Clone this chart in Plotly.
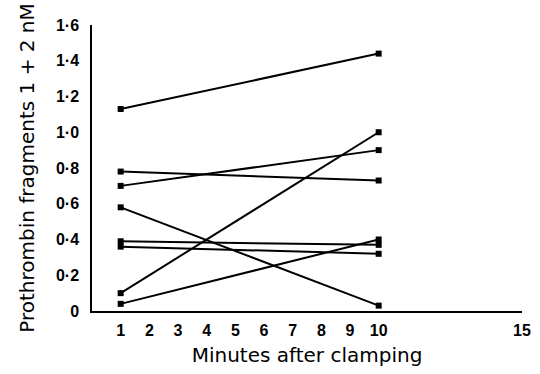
import plotly.graph_objects as go

minutes = [1, 10]
start_values = [1.13, 0.78, 0.70, 0.10, 0.58, 0.39, 0.36, 0.04]
end_values = [1.44, 0.73, 0.90, 1.00, 0.03, 0.37, 0.32, 0.40]

y_tick_vals = [0, 0.2, 0.4, 0.6, 0.8, 1.0, 1.2, 1.4, 1.6]
y_tick_text = ["0", "0·2", "0·4", "0·6", "0·8", "1·0", "1·2", "1·4", "1·6"]
x_tick_vals = [1, 2, 3, 4, 5, 6, 7, 8, 9, 10, 15]

fig = go.Figure()
for s, e in zip(start_values, end_values):
    fig.add_trace(go.Scatter(
        x=minutes, y=[s, e], mode="lines+markers",
        line=dict(color="black", width=2),
        marker=dict(symbol="square", size=6, color="black"),
        showlegend=False, hoverinfo="skip"))

font_family = "Liberation Sans, Arial, sans-serif"
fig.update_layout(
    width=540, height=374,
    margin=dict(l=92, r=18, t=25, b=63),
    paper_bgcolor="white", plot_bgcolor="white",
    font=dict(family=font_family, color="black"),
    xaxis=dict(range=[0, 15], tickvals=x_tick_vals, showgrid=False, zeroline=False,
               showline=True, linecolor="black", linewidth=1.5, ticks="",
               automargin=False, ticklabelstandoff=4,
               tickfont=dict(size=16, weight="bold"),
               title=dict(text="Minutes after clamping",
                          font=dict(family="DejaVu Sans, sans-serif", size=20), standoff=10)),
    yaxis=dict(range=[0, 1.6], tickvals=y_tick_vals, ticktext=y_tick_text,
               showgrid=False, zeroline=False, showline=True, linecolor="black",
               linewidth=1.5, ticks="", ticklabelstandoff=8, automargin=False,
               tickfont=dict(size=16, weight="bold"),
               title=dict(text="Prothrombin fragments 1 + 2 nM",
                          font=dict(family="DejaVu Sans, sans-serif", size=20), standoff=16)),
)
fig.write_html("out.html", config={"displayModeBar": False},
               post_script="document.body.style.margin='0';")
